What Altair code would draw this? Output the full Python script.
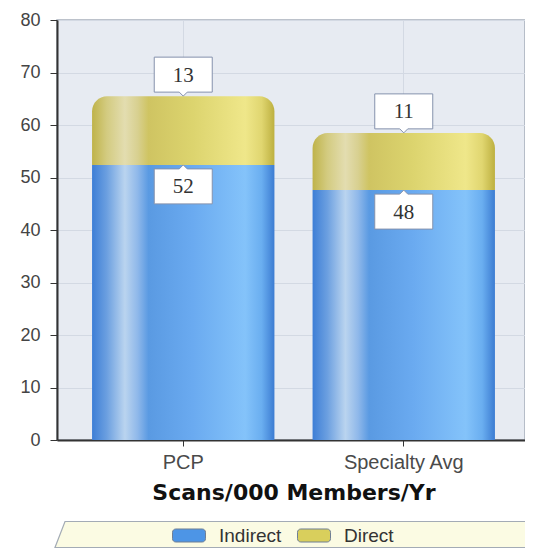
import altair as alt
import pandas as pd

categories = ["PCP", "Specialty Avg"]
indirect = [52.4, 47.6]
direct = [13.1, 10.9]
series = ["Indirect", "Direct"]
y_ticks = [0, 10, 20, 30, 40, 50, 60, 70, 80]

df = pd.DataFrame({
    "cat": categories,
    "ind": indirect,
    "dir": direct,
})
df["total"] = df["ind"] + df["dir"]

legend_df = pd.DataFrame({
    "cat": [categories[0], categories[0]],
    "val": [indirect[0], indirect[0]],
    "series": series,
})

blue_grad = alt.LinearGradient(
    gradient="linear", x1=0, x2=1, y1=0, y2=0,
    stops=[
        alt.GradientStop(color="#3d7ed6", offset=0.0),
        alt.GradientStop(color="#6b9fe0", offset=0.08),
        alt.GradientStop(color="#bad4ef", offset=0.18),
        alt.GradientStop(color="#8fb8ea", offset=0.25),
        alt.GradientStop(color="#5a9ae2", offset=0.31),
        alt.GradientStop(color="#6aaaf0", offset=0.55),
        alt.GradientStop(color="#84c3fa", offset=0.84),
        alt.GradientStop(color="#6aaef0", offset=0.93),
        alt.GradientStop(color="#3c7cd2", offset=1.0),
    ],
)
yellow_grad = alt.LinearGradient(
    gradient="linear", x1=0, x2=1, y1=0, y2=0,
    stops=[
        alt.GradientStop(color="#bfb34a", offset=0.0),
        alt.GradientStop(color="#d3cb80", offset=0.08),
        alt.GradientStop(color="#e3ddb0", offset=0.18),
        alt.GradientStop(color="#d8d090", offset=0.25),
        alt.GradientStop(color="#cfc462", offset=0.31),
        alt.GradientStop(color="#dcd46e", offset=0.55),
        alt.GradientStop(color="#efe78a", offset=0.84),
        alt.GradientStop(color="#e0d670", offset=0.93),
        alt.GradientStop(color="#bdb040", offset=1.0),
    ],
)

x_enc = alt.X(
    "cat:N",
    sort=categories,
    scale=alt.Scale(paddingInner=0.173, paddingOuter=0.159, range=[0, 473]),
    axis=alt.Axis(
        title="Scans/000 Members/Yr",
        labelAngle=0,
        labelFont="Liberation Sans",
        labelFontSize=20,
        labelColor="#4a4a4a",
        labelPadding=6,
        tickSize=6,
        tickColor="#333333",
        domainColor="#333333",
        domainWidth=2,
        grid=True,
        gridColor="#d3d9e3",
        titleFont="DejaVu Sans",
        titleFontWeight="bold",
        titleFontSize=22,
        titleColor="#111111",
        titlePadding=10,
    ),
)
y_scale = alt.Scale(domain=[0, 80], nice=False)
y_axis = alt.Axis(
    title=None,
    values=y_ticks,
    labelFont="Liberation Sans",
    labelFontSize=18,
    labelColor="#444444",
    labelPadding=10,
    tickSize=7,
    tickColor="#333333",
    domainColor="#333333",
    domainWidth=2,
    grid=True,
    gridColor="#d3d9e3",
)

bars_ind = alt.Chart(df).mark_bar(color=blue_grad).encode(
    x=x_enc,
    y=alt.Y("ind:Q", scale=y_scale, axis=y_axis),
)
bars_dir = alt.Chart(df).mark_bar(
    color=yellow_grad, cornerRadiusTopLeft=15, cornerRadiusTopRight=15
).encode(
    x=alt.X("cat:N", sort=categories),
    y=alt.Y("ind:Q"),
    y2="total:Q",
)

up_box = "M-1,0.603L1,0.603L1,-0.603L0.138,-0.603L0,-0.741L-0.138,-0.603L-1,-0.603Z"
down_box = "M-1,-0.603L1,-0.603L1,0.603L0.138,0.603L0,0.741L-0.138,0.603L-1,0.603Z"

box_ind = alt.Chart(df).mark_point(
    shape=up_box, size=3364, filled=True, fill="white", stroke="#8592ad",
    strokeWidth=1, opacity=1, yOffset=21.5,
).encode(x=alt.X("cat:N", sort=categories), y="ind:Q")
txt_ind = alt.Chart(df).mark_text(
    font="Liberation Serif", fontSize=21, color="#333333", yOffset=22.5,
).encode(x=alt.X("cat:N", sort=categories), y="ind:Q", text=alt.Text("ind:Q", format=".0f"))

box_dir = alt.Chart(df).mark_point(
    shape=down_box, size=3364, filled=True, fill="white", stroke="#8592ad",
    strokeWidth=1, opacity=1, yOffset=-21.5,
).encode(x=alt.X("cat:N", sort=categories), y="total:Q")
txt_dir = alt.Chart(df).mark_text(
    font="Liberation Serif", fontSize=21, color="#333333", yOffset=-20.5,
).encode(x=alt.X("cat:N", sort=categories), y="total:Q", text=alt.Text("dir:Q", format=".0f"))

para = "M-0.9588,-0.0535L1,-0.0535L0.9588,0.0535L-1,0.0535Z"
legend_box = alt.Chart(pd.DataFrame({"k": [0]})).mark_point(
    shape=para, size=236196, filled=True, fill="#fbfbe3", stroke="#a3abb5",
    strokeWidth=1.2, opacity=1,
).encode(x=alt.value(241), y=alt.value(514.5))

sym = ("M-0.8,-0.394L0.8,-0.394A0.2,0.2 0 0 1 1,-0.194L1,0.194"
       "A0.2,0.2 0 0 1 0.8,0.394L-0.8,0.394A0.2,0.2 0 0 1 -1,0.194"
       "L-1,-0.194A0.2,0.2 0 0 1 -0.8,-0.394Z")
legend_layer = alt.Chart(legend_df).mark_point(filled=True, opacity=0).encode(
    x=alt.X("cat:N", sort=categories),
    y="val:Q",
    color=alt.Color(
        "series:N",
        sort=series,
        scale=alt.Scale(domain=series, range=["#4d95e6", "#d9cf5c"]),
        legend=alt.Legend(
            title=None,
            orient="none",
            direction="horizontal",
            legendX=115,
            legendY=498.5,
            symbolType=sym,
            symbolSize=1089,
            symbolStrokeColor="#6f7f95",
            symbolStrokeWidth=1,
            labelFont="Liberation Sans",
            labelFontSize=19,
            labelColor="#333333",
            labelOffset=13,
            columnPadding=13,
            padding=0,
        ),
    ),
)

chart = alt.layer(
    bars_ind, bars_dir, box_ind, txt_ind, box_dir, txt_dir, legend_box, legend_layer
).properties(
    width=468,
    height=420,
    padding={"left": 49, "top": 12, "right": 0, "bottom": 109},
    autosize=alt.AutoSizeParams(type="none"),
    background="white",
).configure_view(
    fill="#e7ebf2", stroke="#a7afbb", strokeWidth=1.5
)

chart.save("out.html", embed_options={"renderer": "svg", "actions": False})
